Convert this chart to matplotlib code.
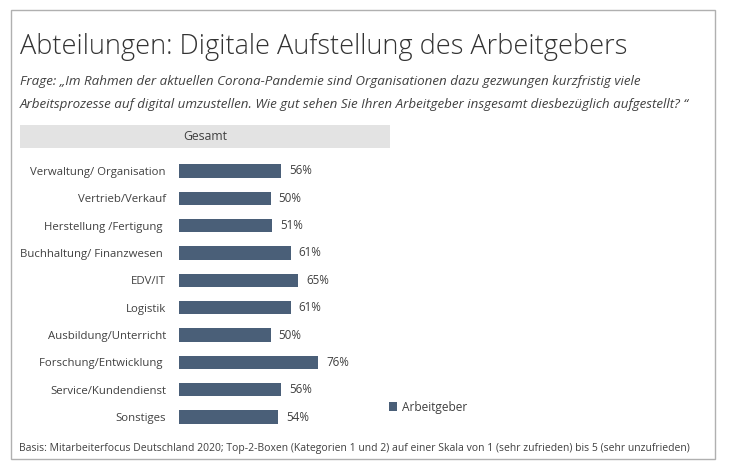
import matplotlib.pyplot as plt
from matplotlib.patches import Rectangle

plt.rcParams['font.family'] = ['Open Sans', 'DejaVu Sans']

categories = ['Verwaltung/ Organisation', 'Vertrieb/Verkauf', 'Herstellung /Fertigung ',
              'Buchhaltung/ Finanzwesen ', 'EDV/IT', 'Logistik', 'Ausbildung/Unterricht',
              'Forschung/Entwicklung ', 'Service/Kundendienst', 'Sonstiges']
values = [56, 50, 51, 61, 65, 61, 50, 76, 56, 54]
series_name = 'Arbeitgeber'

bar_color = '#4a5f78'
text_color = '#404040'

fig = plt.figure(figsize=(7.35, 4.66), dpi=100)
W, H = 735, 466

def fx(px):
    return px / W

def fy(py):
    return 1 - py / H

# outer frame
fig.patches.append(Rectangle((fx(11), fy(459)), fx(704), 449 / H, transform=fig.transFigure,
                             fill=False, edgecolor='#b0b0b0', linewidth=1.0))

fig.text(fx(20), fy(47), 'Abteilungen: Digitale Aufstellung des Arbeitgebers',
         fontsize=19.5, color='#333333', va='center', ha='left', fontweight='light')
fig.text(fx(20), fy(82), 'Frage: \u201eIm Rahmen der aktuellen Corona-Pandemie sind Organisationen dazu gezwungen kurzfristig viele',
         fontsize=9.6, style='italic', color=text_color, va='center', ha='left')
fig.text(fx(20), fy(104), 'Arbeitsprozesse auf digital umzustellen. Wie gut sehen Sie Ihren Arbeitgeber insgesamt diesbez\u00fcglich aufgestellt? \u201c',
         fontsize=9.6, style='italic', color=text_color, va='center', ha='left')

# header band
fig.patches.append(Rectangle((fx(20), fy(148)), fx(370), 23 / H, transform=fig.transFigure,
                             facecolor='#e3e3e3', edgecolor='none'))
fig.text(fx(205), fy(136.5), 'Gesamt', fontsize=8.8, color=text_color, va='center', ha='center')

fig.text(fx(19), fy(448), 'Basis: Mitarbeiterfocus Deutschland 2020; Top-2-Boxen (Kategorien 1 und 2) auf einer Skala von 1 (sehr zufrieden) bis 5 (sehr unzufrieden)',
         fontsize=7.5, color=text_color, va='center', ha='left')

ax = fig.add_axes([fx(179), 1 - 430.7 / H, fx(183), 273.4 / H])
y = list(range(len(categories)))
bars = ax.barh(y, values, height=0.48, color=bar_color, label=series_name)
ax.set_xlim(0, 100)
ax.set_ylim(len(categories) - 0.5, -0.5)
ax.set_yticks(y)
ax.set_yticklabels(categories, fontsize=8.2, color=text_color)
ax.tick_params(axis='y', length=0, pad=9.4)
ax.set_xticks([])
for s in ax.spines.values():
    s.set_visible(False)
for v, yi in zip(values, y):
    ax.text(v + 4.5, yi, f'{v}%', va='center', ha='left', fontsize=8.4, color=text_color)

fig.legend(handles=[bars], labels=[series_name], loc='center left',
           bbox_to_anchor=(fx(378), fy(407)), frameon=False, fontsize=8.6,
           handlelength=0.7, handleheight=0.7, handletextpad=0.4, labelcolor=text_color)

fig.savefig('out.png', dpi=100)
